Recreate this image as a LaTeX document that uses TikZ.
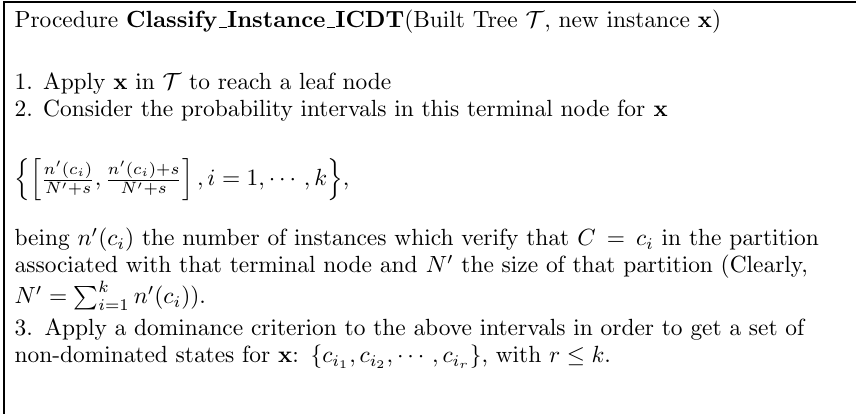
\documentclass[tikz,border=0pt]{standalone}
\usepackage{fix-cm}
\usepackage[OT1]{fontenc}
\renewcommand{\rmdefault}{cmr}
\usepackage{amsmath, amssymb}
\usepackage{tikz}
\usetikzlibrary{positioning}

\begin{document}
\begin{tikzpicture}[
  x=1pt, y=1pt,
  font=\fontsize{10.4}{12}\selectfont,
  frame/.style={draw, line width=0.6pt},
  txt/.style={inner sep=0pt, anchor=base west},
  para/.style={txt, text width=372pt, align=left},
]
  \useasboundingbox (0,0) rectangle (380.4,-184);

  % Frame (only the top and left edges show)
  \coordinate (topleft) at (1.8,-0.9);
  \coordinate (topright) at (380.4,-0.9);
  \coordinate (botleft) at (1.8,-184);
  \draw[frame] (topright) -- (topleft) -- (botleft);

  % Header
  \node[txt] (title) at (6.3,-12.4) {Procedure \textbf{Classify\_Instance\_ICDT}(Built Tree $\mathcal{T}$, new instance $\mathbf{x}$)};

  % Steps 1 and 2
  \node[txt, below=27.2pt of title.base west, anchor=base west] (step1) {1. Apply $\mathbf{x}$ in $\mathcal{T}$ to reach a leaf node};
  \node[txt, below=12pt of step1.base west, anchor=base west] (step2) {2. Consider the probability intervals in this terminal node for $\mathbf{x}$};

  % Intervals
  \node[txt, below=31pt of step2.base west, anchor=base west] (interval) {$\left\{\left[\frac{n'(c_i)}{N'+s},\frac{n'(c_i)+s}{N'+s}\right], i=1,\cdots,k\right\}$,};

  % Explanation
  \node[para, below=26.6pt of interval.base west, anchor=base west] (being) {being $n'(c_i)$ the number of instances which verify that $C=c_i$ in the partition associated with that terminal node and $N'$ the size of that partition (Clearly, $N'=\sum_{i=1}^k n'(c_i)$).};

  % Step 3
  \node[para, below=40pt of being.base west, anchor=base west] (step3) {3. Apply a dominance criterion to the above intervals in order to get a set of non-dominated states for $\mathbf{x}$: $\{c_{i_1},c_{i_2},\cdots,c_{i_r}\}$, with $r\leq k$.};

\end{tikzpicture}
\end{document}
